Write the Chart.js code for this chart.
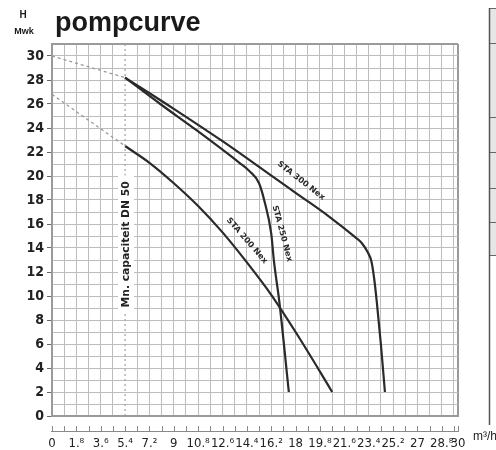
<!DOCTYPE html>
<html><head><meta charset="utf-8">
<script src="https://cdn.jsdelivr.net/npm/chart.js@4/dist/chart.umd.min.js"></script>
<style>html,body{margin:0;padding:0;background:#fff}#wrap{width:496px;height:450px;position:relative}</style>
</head><body><div id="wrap"><canvas id="c"></canvas></div>
<script>
// ---- text ----
const chartTitle = 'pompcurve';
const yUnitTop = 'H';
const yUnitBottom = 'Mwk';
const xUnit = 'm³/h';
const minCapLabel = 'Mn. capaciteit DN 50';

// ---- ticks ----
const xTickValues = [0,1.8,3.6,5.4,7.2,9,10.8,12.6,14.4,16.2,18,19.8,21.6,23.4,25.2,27,28.8,30];
const xTickLabels = ['0','1.⁸','3.⁶','5.⁴','7.²','9','10.⁸','12.⁶','14.⁴','16.²','18','19.⁸','21.⁶','23.⁴','25.²','27','28.⁸','30'];
const yTickValues = [0,2,4,6,8,10,12,14,16,18,20,22,24,26,28,30];
const yTickLabels = ['0','2','4','6','8','10','12','14','16','18','20','22','24','26','28','30'];

// ---- series (flow m³/h, head m) ----
const curveNames = ['STA 300 Nex','STA 250 Nex','STA 200 Nex'];
const sta300Flow = [5.4, 9, 12.6, 16, 18, 20.5, 22.4, 22.9, 23.3, 23.6, 23.8, 24.0, 24.3, 24.6];
const sta300Head = [28.2, 25.6, 22.9, 20.2, 18.6, 16.6, 14.9, 14.4, 13.7, 12.9, 11.5, 9.5, 6.0, 2.0];
const sta250Flow = [5.4, 8, 10.7, 13.85, 14.6, 15.3, 15.7, 16.2, 16.4, 16.8, 17.5];
const sta250Head = [28.2, 26.0, 23.8, 21.1, 20.4, 19.4, 17.9, 15.2, 12.9, 9.5, 2.0];
const sta200Flow = [5.4, 7.2, 9, 10.8, 12.6, 14.4, 16.2, 18, 19.8, 20.7];
const sta200Head = [22.5, 21.1, 19.4, 17.5, 15.3, 12.8, 10.1, 7.0, 3.7, 2.0];
// dashed extrapolation toward zero flow
const ext300Flow = [0, 5.4];
const ext300Head = [30, 28.2];
const ext200Flow = [0, 5.4];
const ext200Head = [26.8, 22.5];
// minimum capacity line
const minCapFlow = 5.4;
const minCapHeadRange = [0, 31];

const pts = (xs, ys) => xs.map((x, i) => ({x, y: ys[i]}));

const curveStyle = {borderColor:'#2a2a2a', borderWidth:2.2, pointRadius:0, fill:false, cubicInterpolationMode:'monotone'};
const dashStyle = {borderColor:'#9a9a9a', borderWidth:1.3, pointRadius:0, fill:false, borderDash:[3,3], tension:0};

// label placement (data coords, angle in degrees)
const curveLabelPos = [
  {flow:18.4, head:19.6, angle:38},
  {flow:17.0, head:15.2, angle:75},
  {flow:14.4, head:14.6, angle:49}
];

const near = (a,b) => Math.abs(a-b) < 1e-6;

const deco = {
  id:'deco',
  afterDatasetsDraw(chart){
    const ctx = chart.ctx, xs = chart.scales.x, ys = chart.scales.y;
    ctx.save();
    // min capacity label
    const cx = xs.getPixelForValue(minCapFlow), cy = ys.getPixelForValue(14.3);
    ctx.font = "bold 11px 'DejaVu Sans Condensed','DejaVu Sans',sans-serif";
    let w = ctx.measureText(minCapLabel).width;
    const target = 126;
    ctx.translate(cx+1, cy);
    ctx.rotate(-Math.PI/2);
    ctx.fillStyle = '#fff';
    ctx.fillRect(-target/2-6, -8, target+12, 16);
    ctx.scale(target/w, 1);
    ctx.fillStyle = '#222';
    ctx.textAlign = 'center'; ctx.textBaseline = 'middle';
    ctx.fillText(minCapLabel, 0, 0);
    ctx.restore();
    // curve labels
    curveNames.forEach((name, i) => {
      const p = curveLabelPos[i];
      ctx.save();
      ctx.translate(xs.getPixelForValue(p.flow), ys.getPixelForValue(p.head));
      ctx.rotate(p.angle*Math.PI/180);
      ctx.font = "bold 8px 'DejaVu Sans Condensed','DejaVu Sans',sans-serif";
      const ww = ctx.measureText(name).width;
      ctx.scale(58/ww, 1);
      ctx.fillStyle = '#2a2a2a';
      ctx.textAlign = 'center'; ctx.textBaseline = 'middle';
      ctx.fillText(name, 0, 0);
      ctx.restore();
    });
  },
  afterDraw(chart){
    const ctx = chart.ctx, xs = chart.scales.x;
    ctx.save();
    // title
    ctx.fillStyle = '#1a1a1a';
    ctx.font = "900 27px 'Liberation Sans', Arial, sans-serif";
    ctx.textBaseline = 'alphabetic'; ctx.textAlign = 'left';
    ctx.fillText(chartTitle, 55, 31);
    // axis unit
    ctx.textAlign = 'center'; ctx.textBaseline = 'middle';
    ctx.font = "bold 10px 'Liberation Sans', Arial, sans-serif";
    ctx.fillText(yUnitTop, 23, 15);
    ctx.font = "bold 9px 'Liberation Sans Narrow','Liberation Sans', Arial, sans-serif";
    ctx.fillText(yUnitBottom, 24, 32);
    // detached x axis line with ticks
    const ay = 431;
    ctx.strokeStyle = '#8a8a8a'; ctx.lineWidth = 1;
    ctx.beginPath();
    ctx.moveTo(xs.getPixelForValue(0)-1, ay+0.5); ctx.lineTo(xs.getPixelForValue(30)+1, ay+0.5);
    xs.ticks.forEach(t => {
      const px = Math.round(xs.getPixelForValue(t.value))+0.5;
      ctx.moveTo(px, ay-5); ctx.lineTo(px, ay+0.5);
    });
    ctx.stroke();
    // x unit
    ctx.fillStyle = '#222';
    ctx.textAlign = 'left'; ctx.textBaseline = 'alphabetic';
    ctx.font = "12px 'Liberation Sans', Arial, sans-serif";
    ctx.fillText(xUnit, 473, 440);
    // partial side table
    ctx.fillStyle = '#e6e6e6';
    ctx.fillRect(490, 8, 6, 247);
    ctx.strokeStyle = '#666'; ctx.lineWidth = 1;
    ctx.beginPath();
    [8,43,117,152,188,222,255].forEach(y => { ctx.moveTo(489, y+0.5); ctx.lineTo(496, y+0.5); });
    ctx.stroke();
    ctx.strokeStyle = '#555'; ctx.lineWidth = 1.5;
    ctx.beginPath(); ctx.moveTo(489.5, 8); ctx.lineTo(489.5, 425); ctx.stroke();
    ctx.restore();
  }
};

new Chart(document.getElementById('c'), {
  type:'line',
  data:{datasets:[
    Object.assign({label:'ext300', data:pts(ext300Flow, ext300Head)}, dashStyle),
    Object.assign({label:'ext200', data:pts(ext200Flow, ext200Head)}, dashStyle),
    Object.assign({label:'mincap', data:[{x:minCapFlow,y:minCapHeadRange[0]},{x:minCapFlow,y:minCapHeadRange[1]}]}, dashStyle, {borderDash:[2,3], borderColor:'#a0a0a0', borderWidth:1.2}),
    Object.assign({label:curveNames[0], data:pts(sta300Flow, sta300Head)}, curveStyle),
    Object.assign({label:curveNames[1], data:pts(sta250Flow, sta250Head)}, curveStyle),
    Object.assign({label:curveNames[2], data:pts(sta200Flow, sta200Head)}, curveStyle)
  ]},
  options:{
    responsive:true, maintainAspectRatio:false, animation:false,
    layout:{padding:{left:0, top:44, right:38, bottom:0}},
    plugins:{legend:{display:false}, tooltip:{enabled:false}, title:{display:false}},
    scales:{
      x:{
        type:'linear', min:0, max:30,
        afterBuildTicks: s => { const t=[]; for(let i=0;i<=33;i++) t.push({value:+(i*0.9).toFixed(1)}); t.push({value:30}); s.ticks=t; },
        afterFit: s => { s.height = 34; },
        ticks:{autoSkip:false, maxRotation:0, minRotation:0, padding:20, color:'#222',
          font:{family:"'Liberation Sans Narrow','DejaVu Sans Condensed',sans-serif", size:13},
          callback: v => { const i = xTickValues.findIndex(a => near(a, v)); return i>=0 ? xTickLabels[i] : ''; }},
        grid:{drawTicks:false,
          color: c => { const v = c.tick ? c.tick.value : null; if (v===null) return '#bdbdbd'; if (near(v,30)) return '#9a9a9a'; if (near(v,5.4)) return 'rgba(0,0,0,0)'; return '#bdbdbd'; },
          lineWidth: c => (c.tick && near(c.tick.value,30)) ? 2 : 1},
        border:{display:true, color:'#9a9a9a', width:2}
      },
      y:{
        type:'linear', min:0, max:31,
        afterBuildTicks: s => { const t=[]; for(let i=0;i<=31;i++) t.push({value:i}); s.ticks=t; },
        afterFit: s => { s.width = 52; },
        ticks:{autoSkip:false, padding:3, color:'#222',
          font:{family:"'Liberation Sans Narrow','DejaVu Sans Condensed',sans-serif", size:14, weight:'bold'},
          callback: v => { const i = yTickValues.findIndex(a => near(a, v)); return i>=0 ? yTickLabels[i] : ''; }},
        grid:{drawTicks:true, tickLength:5,
          tickColor: c => (c.tick && c.tick.value%2===0 && c.tick.value<=30) ? '#666' : 'rgba(0,0,0,0)',
          color: c => (c.tick && near(c.tick.value,31)) ? '#9a9a9a' : '#bdbdbd',
          lineWidth: c => (c.tick && near(c.tick.value,31)) ? 2 : 1},
        border:{display:true, color:'#9a9a9a', width:2}
      }
    }
  },
  plugins:[deco]
});
</script></body></html>
